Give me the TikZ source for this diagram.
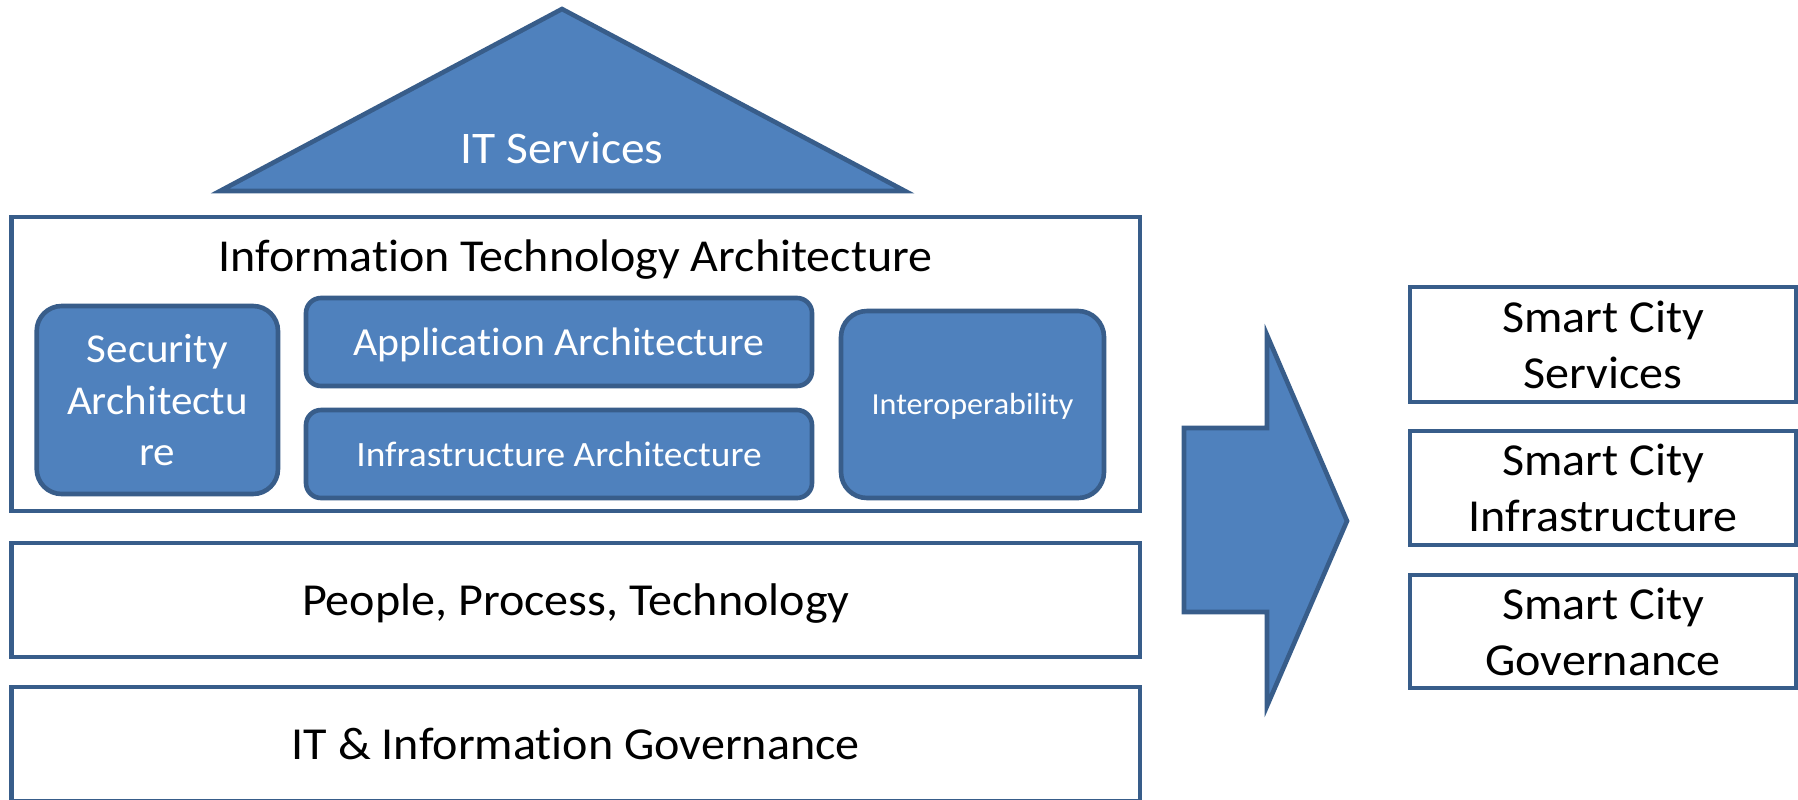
\documentclass[tikz,border=0pt]{standalone}
\usepackage{fontspec}
\setmainfont{Carlito}[Ligatures=NoCommon,FakeStretch=1.05]
\definecolor{bfill}{HTML}{4F81BD}
\definecolor{bline}{HTML}{385D8A}
\newcommand\ppstrut{\rule[-0.269em]{0pt}{1.221em}}
\tikzset{
  px/.style={x=0.5pt,y=-0.5pt},
  pptext/.style={execute at begin node=\ppstrut,execute at end node=\ppstrut},
  wbox/.style={draw=bline,line width=2.3pt,fill=white,inner sep=0pt,text=black,pptext},
  bbox/.style={draw=bline,line width=2.3pt,fill=bfill,inner sep=0pt,text=white,align=center,pptext},
  bshape/.style={draw=bline,line width=2.3pt,fill=bfill,line join=miter},
  bigtxt/.style={font=\fontsize{22.9}{28}\selectfont},
}
\begin{document}
\begin{tikzpicture}[px]
\useasboundingbox (0,0) rectangle (1798,799);
% IT services roof
\draw[bshape] (562,9) -- (905,191) -- (220,191) -- cycle;
\node[text=white,anchor=base,inner sep=0pt,font=\fontsize{22.6}{28}\selectfont] (its) at (562,163.3) {IT Services};
% ITA container
\node[wbox,minimum width=564.25pt,minimum height=147pt] (ita) at (575.75,364) {};
\node[anchor=base,inner sep=0pt,font=\fontsize{22.85}{26}\selectfont] (itat) at (575.5,271.7) {Information Technology Architecture};
\node[bbox,rounded corners=12.5pt,minimum width=120.65pt,minimum height=94pt,font=\fontsize{20.5}{25.7}\selectfont] (sec) at (157.35,400) {\ppstrut Security\\Architectu\\re\ppstrut};
\node[bbox,rounded corners=7.5pt,minimum width=253pt,minimum height=44pt,font=\fontsize{19.9}{24}\selectfont] (app) at (559,342) {Application Architecture};
\node[bbox,rounded corners=7.5pt,minimum width=253pt,minimum height=44pt,font=\fontsize{17.8}{22}\selectfont] (inf) at (559,454) {Infrastructure Architecture};
\node[bbox,rounded corners=13pt,minimum width=131.5pt,minimum height=93.5pt,font=\fontsize{15.3}{19}\selectfont] (iop) at (972.5,404.5) {Interoperability};
% lower layers
\node[wbox,minimum width=564.25pt,minimum height=57pt,bigtxt] (ppt) at (575.75,600) {People, Process, Technology};
\node[wbox,minimum width=564.25pt,minimum height=57pt,bigtxt] (itg) at (575.75,744) {IT \& Information Governance};
% block arrow
\draw[bshape] (1184,428) -- (1267,428) -- (1267,335) -- (1347,521) -- (1267,706) -- (1267,612) -- (1184,612) -- cycle;
% smart city boxes
\node[wbox,minimum width=193pt,minimum height=57.5pt,bigtxt,align=center] (sc1) at (1603,344.5) {\ppstrut Smart City\\Services\ppstrut};
\node[wbox,minimum width=193pt,minimum height=57pt,bigtxt,align=center] (sc2) at (1603,488) {\ppstrut Smart City\\Infrastructure\ppstrut};
\node[wbox,minimum width=193pt,minimum height=56.5pt,bigtxt,align=center] (sc3) at (1603,631.5) {\ppstrut Smart City\\Governance\ppstrut};
\end{tikzpicture}
\end{document}
